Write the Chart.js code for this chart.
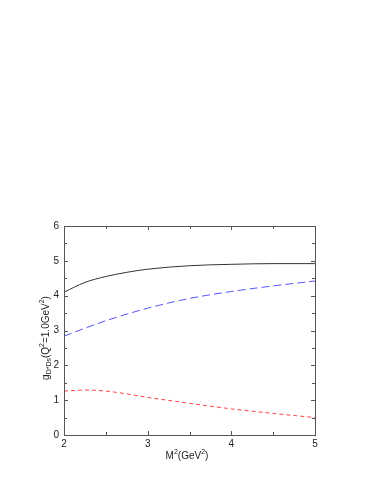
<!DOCTYPE html>
<html>
<head>
<meta charset="utf-8">
<script src="https://cdn.jsdelivr.net/npm/chart.js@4/dist/chart.umd.min.js"></script>
<style>
    html, body { margin: 0; padding: 0; background: #fff; }
    #wrap { width: 379px; height: 491px; }
</style>
</head>
<body>
<div id="wrap"><canvas id="graphic"></canvas></div>
<script>
// values
const solidX = [2, 2.25, 2.5, 2.75, 3, 3.5, 4, 4.5, 5];
const solidY = [4.1, 4.38, 4.55, 4.67, 4.76, 4.86, 4.9, 4.92, 4.92];

const longDashX = [2, 2.5, 3, 3.5, 4, 4.5, 5];
const longDashY = [2.84, 3.28, 3.64, 3.92, 4.12, 4.28, 4.42];

const shortDashX = [2, 2.25, 2.5, 2.75, 3, 3.5, 4, 4.5, 5];
const shortDashY = [1.26, 1.29, 1.26, 1.18, 1.08, 0.91, 0.75, 0.62, 0.5];

const xTicks = [2, 3, 4, 5];
const yTicks = [0, 1, 2, 3, 4, 5, 6];

const toPoints = (xs, ys) => xs.map((x, i) => ({ x: x, y: ys[i] }));

const fontFamily = "'Liberation Sans', Arial, sans-serif";

// draws a title made of pieces (normal, sub, sup), centred on (x, y)
const drawPieces = (ctx, parts, x, y, angle) => {
    let total = 0;
    for (let p of parts) {
        ctx.font = p.s + 'px ' + fontFamily;
        p.w = ctx.measureText(p.t).width;
        total += p.w;
    }
    ctx.save();
    ctx.translate(x, y);
    ctx.rotate(angle);
    ctx.fillStyle = '#222';
    ctx.textBaseline = 'middle';
    let cx = -total / 2;
    for (let p of parts) {
        ctx.font = p.s + 'px ' + fontFamily;
        ctx.fillText(p.t, cx, p.dy);
        cx += p.w;
    }
    ctx.restore();
}

// frame + inward ticks, like the gnuplot box
const frameTicks = {
    id: 'frameTicks',
    afterDraw(chart) {
        const ctx = chart.ctx;
        const a = chart.chartArea;
        const xs = chart.scales.x;
        const ys = chart.scales.y;
        ctx.save();
        ctx.strokeStyle = '#555';
        ctx.lineWidth = 1;
        ctx.strokeRect(a.left + 0.5, a.top + 0.5, a.right - a.left, a.bottom - a.top);
        ctx.beginPath();
        for (let v = 2; v <= 5.001; v += 0.5) {
            let px = Math.round(xs.getPixelForValue(v)) + 0.5;
            let len = Number.isInteger(v) ? 4 : 3;
            ctx.moveTo(px, a.bottom); ctx.lineTo(px, a.bottom - len);
            ctx.moveTo(px, a.top); ctx.lineTo(px, a.top + len);
        }
        for (let v = 0; v <= 6.001; v += 0.5) {
            let py = Math.round(ys.getPixelForValue(v)) + 0.5;
            let len = Number.isInteger(v) ? 4 : 3;
            ctx.moveTo(a.left, py); ctx.lineTo(a.left + len, py);
            ctx.moveTo(a.right, py); ctx.lineTo(a.right - len, py);
        }
        ctx.stroke();
        ctx.restore();

        drawPieces(ctx, [
            { t: 'g', s: 10, dy: 0 },
            { t: 'D*Ds', s: 7, dy: 3 },
            { t: '(Q', s: 10, dy: 0 },
            { t: '2', s: 7, dy: -4 },
            { t: '=1.0GeV', s: 10, dy: 0 },
            { t: '2', s: 7, dy: -4 },
            { t: ')', s: 10, dy: 0 },
        ], 46, 338, -Math.PI / 2);

        drawPieces(ctx, [
            { t: 'M', s: 10, dy: 0 },
            { t: '2', s: 7, dy: -4 },
            { t: '(GeV', s: 10, dy: 0 },
            { t: '2', s: 7, dy: -4 },
            { t: ')', s: 10, dy: 0 },
        ], 187, 456, 0);
    }
};

const graphicElement = document.getElementById('graphic');

const graphic = new Chart(graphicElement, {
    type: 'line',
    data: {
        datasets: [
            {
                data: toPoints(solidX, solidY),
                borderColor: '#333333',
                borderWidth: 1,
                pointRadius: 0,
                cubicInterpolationMode: 'monotone',
            },
            {
                data: toPoints(longDashX, longDashY),
                borderColor: '#5555ff',
                borderWidth: 1,
                borderDash: [8, 4],
                pointRadius: 0,
                cubicInterpolationMode: 'monotone',
            },
            {
                data: toPoints(shortDashX, shortDashY),
                borderColor: '#ff4444',
                borderWidth: 1,
                borderDash: [4, 3],
                pointRadius: 0,
                cubicInterpolationMode: 'monotone',
            },
        ],
    },
    options: {
        responsive: true,
        maintainAspectRatio: false,
        animation: false,
        layout: {
            padding: { top: 226, right: 64, left: 0, bottom: 0 }
        },
        scales: {
            x: {
                type: 'linear',
                min: 2,
                max: 5,
                afterFit: (scale) => { scale.height = 56; },
                afterBuildTicks: (scale) => { scale.ticks = xTicks.map(v => ({ value: v })); },
                grid: { display: false, drawTicks: false },
                border: { display: false },
                ticks: {
                    padding: 3,
                    color: '#222',
                    font: { family: fontFamily, size: 10 },
                },
            },
            y: {
                min: 0,
                max: 6,
                afterFit: (scale) => { scale.width = 64; },
                afterBuildTicks: (scale) => { scale.ticks = yTicks.map(v => ({ value: v })); },
                grid: { display: false, drawTicks: false },
                border: { display: false },
                ticks: {
                    padding: 5,
                    color: '#222',
                    font: { family: fontFamily, size: 10 },
                },
            },
        },
        plugins: {
            legend: { display: false },
            tooltip: { enabled: false },
        },
    },
    plugins: [frameTicks],
});
</script>
</body>
</html>
